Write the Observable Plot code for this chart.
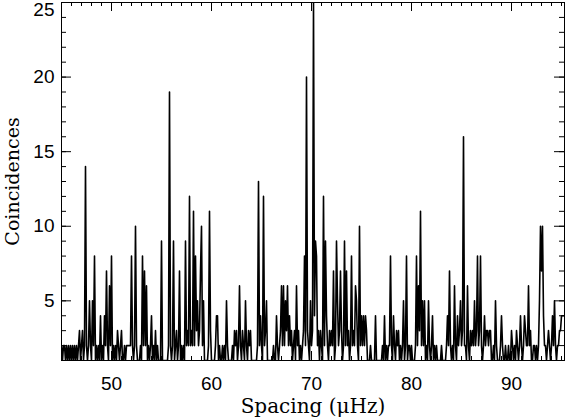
<!DOCTYPE html>
<html><head><meta charset="utf-8">
<script src="https://cdn.jsdelivr.net/npm/d3@7"></script>
<script src="https://cdn.jsdelivr.net/npm/@observablehq/plot@0.6"></script>
<style>body{margin:0;background:#fff} #chart{width:565px;height:418px}</style>
</head><body><div id="chart"></div>
<script>
// Binned coincidence counts, bins of 0.1 μHz starting at 45.0 μHz
const spacingStart = 45.0;
const spacingStep = 0.1;
const counts45 = [2,1,2,2,1,2,1,2,1,2, 1,2,1,2,1,2,1,2,3,1, 2,3,1,2,14,2,1,2,5,2, 1,5,2,8,1,2,1,2,1,4, 1,2,1,4,2,7,2,1,6,2];
const counts50 = [8,1,2,1,2,1,3,2,1,2, 3,1,1,2,1,2,2,2,2,2, 8,2,1,2,10,2,1,1,1,2, 1,8,2,7,2,6,1,2,1,2, 4,1,2,1,3,1,2,1,1,1];
const counts55 = [9,1,1,1,1,1,1,2,19,2, 1,2,9,1,2,3,1,2,7,1, 2,1,2,1,9,2,3,2,12,2, 3,2,11,2,8,3,5,2,3,7, 10,2,5,1,1,1,1,2,11,3];
const counts60 = [1,1,1,1,2,4,4,1,2,1, 1,2,1,2,1,5,2,1,1,1, 1,2,1,3,2,3,1,2,6,2, 1,3,2,1,5,2,1,3,2,3, 1,1,1,1,1,1,2,13,2,4];
const counts65 = [2,1,12,2,3,5,1,1,1,1, 1,1,2,1,1,4,2,1,2,3, 6,2,6,2,5,3,6,2,4,2, 3,1,2,3,1,6,2,3,1,2, 1,2,3,8,2,20,3,2,1,5];
const counts70 = [2,3,25,4,9,8,2,3,1,3, 2,1,12,2,9,4,2,1,3,2, 3,2,7,1,2,9,5,2,3,7, 3,1,2,9,2,7,2,3,1,2, 8,2,3,2,6,5,2,1,10,2];
const counts75 = [4,2,4,2,4,3,1,1,1,2, 1,1,1,1,4,1,1,1,1,1, 1,2,1,4,1,2,1,2,2,8, 2,1,4,2,1,3,2,3,1,2, 1,2,5,1,2,8,1,2,2,1];
const counts80 = [2,1,1,1,2,8,2,6,3,11, 2,5,2,5,1,2,1,5,2,1, 2,4,1,2,1,2,1,1,1,1, 2,1,1,1,1,2,4,2,7,2, 1,2,1,6,2,1,4,2,3,5];
const counts85 = [2,3,16,2,2,1,6,2,1,3, 2,3,2,5,2,3,8,2,3,8, 2,1,2,4,2,3,3,2,3,3, 1,1,2,1,5,2,1,1,1,2, 4,2,1,1,2,1,1,2,1,1];
const counts90 = [3,2,1,2,1,3,2,1,2,4, 2,1,2,4,3,2,2,6,2,3, 1,1,2,2,1,2,1,2,5,10, 7,10,4,2,2,1,2,3,2,1, 2,4,2,5,2,1,2,2,3,3];
const counts95 = [4,4,4];

const xTickLabels = [50, 60, 70, 80, 90];
const yTickLabels = [5, 10, 15, 20, 25];
const xTitle = "Spacing (μHz)";
const yTitle = "Coincidences";

const counts = [].concat(counts45, counts50, counts55, counts60, counts65, counts70, counts75, counts80, counts85, counts90, counts95);
const data = counts.map((c, i) => ({spacing: +(spacingStart + i * spacingStep).toFixed(1), count: c}));

const xMinor = d3.range(46, 96);
const yMinor = d3.range(2, 25);
const sans = "'Liberation Sans', Arial, sans-serif";
const serif = "'DejaVu Serif', serif";

const W = 565, H = 418, mL = 61, mR = 1, mT = 2, mB = 58;
const plotW = W - mL - mR, plotH = H - mT - mB;

const chart = Plot.plot({
  width: W, height: H,
  marginLeft: mL, marginRight: mR, marginTop: mT, marginBottom: mB,
  x: {domain: [45, 95.3], axis: null},
  y: {domain: [1, 25], axis: null},
  style: {background: "white", color: "black", fontFamily: sans},
  marks: [
    Plot.line(data, {x: "spacing", y: "count", stroke: "black", strokeWidth: 1.6, clip: true}),
    Plot.frame({stroke: "black", strokeWidth: 1}),
    // inward ticks on all four sides
    Plot.tickX(xMinor, {x: d => d, insetTop: plotH - 4, stroke: "black"}),
    Plot.tickX(xMinor, {x: d => d, insetBottom: plotH - 4, stroke: "black"}),
    Plot.tickX(xTickLabels, {x: d => d, insetTop: plotH - 9, stroke: "black"}),
    Plot.tickX(xTickLabels, {x: d => d, insetBottom: plotH - 9, stroke: "black"}),
    Plot.tickY(yMinor, {y: d => d, insetRight: plotW - 5, stroke: "black"}),
    Plot.tickY(yMinor, {y: d => d, insetLeft: plotW - 5, stroke: "black"}),
    Plot.tickY(yTickLabels, {y: d => d, insetRight: plotW - 10, stroke: "black"}),
    Plot.tickY(yTickLabels, {y: d => d, insetLeft: plotW - 10, stroke: "black"}),
    Plot.text(xTickLabels, {x: d => d, y: 1, dy: 23, text: d => String(d), fontSize: 19, fontFamily: sans, fill: "black"}),
    Plot.text(yTickLabels.filter(d => d < 25), {x: 45, y: d => d, dx: -7, text: d => String(d), textAnchor: "end", fontSize: 19, fontFamily: sans, fill: "black"}),
    Plot.text(yTickLabels.filter(d => d === 25), {x: 45, y: d => d, dx: -7, dy: 7, text: d => String(d), textAnchor: "end", fontSize: 19, fontFamily: sans, fill: "black"}),
    Plot.text([xTitle], {frameAnchor: "bottom", dy: 46, lineAnchor: "middle", textAnchor: "middle", text: d => d, fontSize: 20, fontFamily: serif, fill: "black"}),
    Plot.text([yTitle], {frameAnchor: "left", dx: -49, rotate: -90, lineAnchor: "middle", textAnchor: "middle", text: d => d, fontSize: 19, fontFamily: serif, fill: "black"})
  ]
});
document.getElementById("chart").appendChild(chart);
</script>
</body></html>
